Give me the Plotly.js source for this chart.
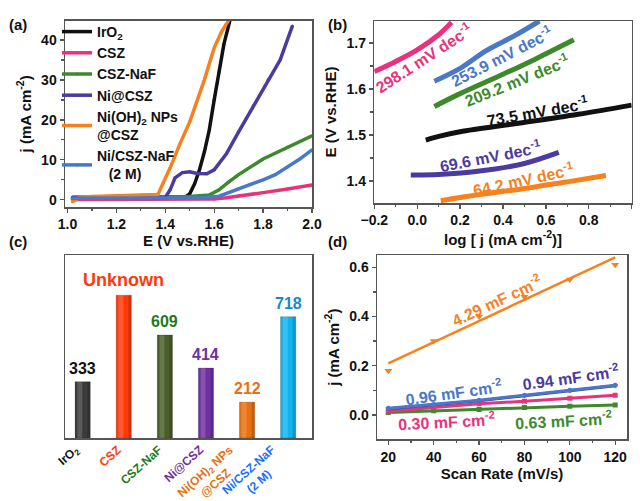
<!DOCTYPE html>
<html>
<head>
<meta charset="utf-8">
<script src="https://cdn.plot.ly/plotly-3.0.1.min.js"></script>
<style>html,body{margin:0;padding:0;background:#fff;}#chart{width:640px;height:501px;}</style>
</head>
<body>
<div id="chart"></div>
<script>
// ---------- Panel (a): LSV curves ----------
const irO2X = [1.02, 1.2, 1.4, 1.48, 1.5, 1.52, 1.54, 1.56, 1.58, 1.6, 1.62, 1.64, 1.665];
const irO2Y = [0.3, 0.3, 0.4, 0.6, 1.5, 4, 7.5, 12, 17.5, 25, 32, 39, 45];
const cszX = [1.02, 1.3, 1.6, 1.65, 1.7, 1.8, 1.9, 2.0];
const cszY = [0.1, 0.1, 0.2, 0.5, 1.0, 1.8, 2.7, 3.7];
const cszNaFX = [1.02, 1.3, 1.5, 1.58, 1.62, 1.66, 1.7, 1.8, 1.9, 2.0];
const cszNaFY = [0.7, 0.7, 0.8, 1.2, 2.5, 4.5, 6.3, 10.2, 13.2, 16];
const niCszX = [1.02, 1.2, 1.4, 1.42, 1.44, 1.47, 1.5, 1.53, 1.57, 1.6, 1.65, 1.7, 1.76, 1.82, 1.87, 1.92];
const niCszY = [0.5, 0.5, 0.6, 2.5, 5.5, 6.8, 7, 6.6, 6.5, 7.5, 11.5, 17, 23.5, 30, 35, 43.5];
const niOHX = [1.02, 1.05, 1.1, 1.2, 1.3, 1.37, 1.39, 1.42, 1.46, 1.5, 1.52, 1.56, 1.6, 1.63, 1.66];
const niOHY = [-0.5, 0.6, 0.8, 1.0, 1.1, 1.3, 4, 8, 14, 19.5, 23, 30, 38, 42, 45];
const niCszNaFX = [1.02, 1.3, 1.55, 1.62, 1.66, 1.7, 1.75, 1.8, 1.85, 1.9, 1.95, 2.0];
const niCszNaFY = [0.4, 0.4, 0.5, 0.9, 1.8, 2.8, 3.8, 5, 6.3, 8.2, 10.2, 12.5];
const legendNames = ['IrO<sub>2</sub>', 'CSZ', 'CSZ-NaF', 'Ni@CSZ', 'Ni(OH)<sub>2</sub> NPs<br>@CSZ', 'Ni/CSZ-NaF<br>   (2 M)'];

// ---------- Panel (b): Tafel ----------
const tafPinkX = [-0.2, -0.1, 0.0, 0.1, 0.16];
const tafPinkY = [1.638, 1.66, 1.685, 1.718, 1.745];
const tafBlueX = [0.08, 0.2, 0.32, 0.45, 0.57];
const tafBlueY = [1.617, 1.645, 1.683, 1.715, 1.748];
const tafGreenX = [0.08, 0.2, 0.4, 0.55, 0.73];
const tafGreenY = [1.562, 1.59, 1.632, 1.665, 1.707];
const tafBlackX = [0.04, 0.1, 0.2, 0.48, 0.75, 1.0];
const tafBlackY = [1.489, 1.497, 1.507, 1.526, 1.545, 1.565];
const tafPurpleX = [-0.03, 0.1, 0.3, 0.5, 0.66];
const tafPurpleY = [1.413, 1.414, 1.422, 1.438, 1.462];
const tafOrangeX = [0.11, 0.3, 0.48, 0.7, 0.88];
const tafOrangeY = [1.357, 1.371, 1.382, 1.398, 1.412];
const tafelLabels = ['298.1 mV dec<sup>-1</sup>', '253.9 mV dec<sup>-1</sup>', '209.2 mV dec<sup>-1</sup>', '73.5 mV dec<sup>-1</sup>', '69.6 mV dec<sup>-1</sup>', '64.2 mV dec<sup>-1</sup>'];

// ---------- Panel (c): overpotential bars ----------
const barCats = ['IrO<sub>2</sub>', 'CSZ', 'CSZ-NaF', 'Ni@CSZ', 'Ni(OH)<sub>2</sub> NPs<br>@CSZ', 'Ni/CSZ-NaF<br>(2 M)'];
const barValues = [333, 845, 609, 414, 212, 718];
const barLabels = ['333', 'Unknown', '609', '414', '212', '718'];

// ---------- Panel (d): Cdl ----------
const scanRate = [20, 40, 60, 80, 100, 120];
const cdlOrange = [0.18, 0.30, 0.40, 0.48, 0.55, 0.61];
const cdlOrangeFitX = [20, 120];
const cdlOrangeFitY = [0.21, 0.64];
const cdlBlue = [0.027, 0.042, 0.060, 0.080, 0.100, 0.121];
const cdlPurple = [0.025, 0.040, 0.058, 0.078, 0.098, 0.119];
const cdlPink = [0.015, 0.030, 0.045, 0.056, 0.068, 0.080];
const cdlGreen = [0.010, 0.017, 0.022, 0.030, 0.035, 0.040];
const cdlLabels = ['4.29 mF cm<sup>-2</sup>', '0.96 mF cm<sup>-2</sup>', '0.94 mF cm<sup>-2</sup>', '0.30 mF cm<sup>-2</sup>', '0.63 mF cm<sup>-2</sup>'];

// ---------- colours ----------
const cBlack = '#111111', cPink = '#e8337c', cGreen = '#3c8a2c', cPurple = '#4b3aa0', cOrange = '#f5821f', cBlue = '#4a78c8';
const barColors = ['#3b3b3b', '#ff3a0a', '#4a5e2a', '#7030a0', '#e8700f', '#12b2ee'];
const barTextColors = ['#111111', '#ff3a0a', '#1e7a1e', '#7030a0', '#e8700f', '#1a86d0'];
const barTickColors = ['#111111', '#ff3a0a', '#1e7a1e', '#7030a0', '#e8700f', '#1a6fff'];

const FONT = 'Liberation Sans, Arial, sans-serif';
const W = 640, H = 501;
const px = v => v / W, py = v => 1 - v / H;

const traces = [];
function lsv(x, y, color, name) {
  traces.push({x, y, type: 'scatter', mode: 'lines+markers', name, xaxis: 'x', yaxis: 'y',
    line: {color, width: 3.5}, marker: {size: 3, color}, showlegend: true});
}
lsv(irO2X, irO2Y, cBlack, legendNames[0]);
lsv(cszX, cszY, cPink, legendNames[1]);
lsv(cszNaFX, cszNaFY, cGreen, legendNames[2]);
lsv(niCszX, niCszY, cPurple, legendNames[3]);
lsv(niOHX, niOHY, cOrange, legendNames[4]);
lsv(niCszNaFX, niCszNaFY, cBlue, legendNames[5]);

function taf(x, y, color) {
  traces.push({x, y, type: 'scatter', mode: 'lines', xaxis: 'x2', yaxis: 'y2',
    line: {color, width: 5, shape: 'spline'}, showlegend: false, hoverinfo: 'skip'});
}
taf(tafPinkX, tafPinkY, cPink);
taf(tafBlueX, tafBlueY, cBlue);
taf(tafGreenX, tafGreenY, cGreen);
taf(tafBlackX, tafBlackY, cBlack);
taf(tafPurpleX, tafPurpleY, cPurple);
taf(tafOrangeX, tafOrangeY, cOrange);

const barIdx = barCats.map((_, i) => i);
traces.push({x: barIdx, y: barValues, type: 'bar', xaxis: 'x3', yaxis: 'y3', width: 0.37,
  marker: {color: barColors, line: {color: 'rgba(0,0,0,0.2)', width: 1}}, showlegend: false});
// cylinder shading: light band on the left, darker band on the right
traces.push({x: barIdx, y: barValues, type: 'bar', xaxis: 'x3', yaxis: 'y3', width: 0.12, offset: -0.13,
  marker: {color: 'rgba(255,255,255,0.16)', line: {width: 0}}, showlegend: false});
traces.push({x: barIdx, y: barValues, type: 'bar', xaxis: 'x3', yaxis: 'y3', width: 0.07, offset: 0.11,
  marker: {color: 'rgba(0,0,0,0.16)', line: {width: 0}}, showlegend: false});

traces.push({x: scanRate, y: cdlOrange, type: 'scatter', mode: 'markers', xaxis: 'x4', yaxis: 'y4',
  marker: {symbol: 'triangle-down', size: 7, color: cOrange}, showlegend: false});
traces.push({x: cdlOrangeFitX, y: cdlOrangeFitY, type: 'scatter', mode: 'lines', xaxis: 'x4', yaxis: 'y4',
  line: {color: cOrange, width: 2.5}, showlegend: false});
function cdl(y, color, sym) {
  traces.push({x: scanRate, y, type: 'scatter', mode: 'lines+markers', xaxis: 'x4', yaxis: 'y4',
    line: {color, width: 3}, marker: {symbol: sym, size: 5, color}, showlegend: false});
}
cdl(cdlGreen, cGreen, 'square');
cdl(cdlPink, cPink, 'square');
cdl(cdlPurple, cPurple, 'triangle-down');
cdl(cdlBlue, cBlue, 'circle');

const tickFont = {family: FONT, size: 14, color: '#111', weight: 'bold'};
const titleFont = {family: FONT, size: 15, color: '#111', weight: 'bold'};
function ax(extra) {
  return Object.assign({showline: true, mirror: true, linecolor: '#555', linewidth: 1.5,
    ticks: 'outside', ticklen: 4, tickwidth: 1.3, tickcolor: '#555', showgrid: false, zeroline: false,
    tickfont: tickFont}, extra);
}
const minorT = d => ({ticks: 'outside', ticklen: 2.5, tickcolor: '#555', dtick: d, showgrid: false});

const annotations = [];
function ann(text, x, y, xref, yref, color, size, angle) {
  annotations.push({text, x, y, xref, yref, showarrow: false, textangle: angle || 0,
    font: {family: FONT, size, color, weight: 'bold'}, xanchor: 'center', yanchor: 'middle'});
}
// panel labels
ann('(a)', px(18), py(24), 'paper', 'paper', '#111', 15);
ann('(b)', px(337), py(24), 'paper', 'paper', '#111', 15);
ann('(c)', px(18), py(241), 'paper', 'paper', '#111', 15);
ann('(d)', px(337), py(241), 'paper', 'paper', '#111', 15);

// tafel labels
const tafPos = [[0.028, 1.667, -33, cPink], [0.394, 1.671, -27, cBlue], [0.464, 1.620, -22, cGreen],
  [0.557, 1.553, -10, cBlack], [0.339, 1.455, -11, cPurple], [0.495, 1.404, -12, cOrange]];
tafelLabels.forEach((t, i) => ann(t, tafPos[i][0], tafPos[i][1], 'x2', 'y2', tafPos[i][3], 16, tafPos[i][2]));

// bar value labels
barLabels.forEach((t, i) => {
  annotations.push({text: t, x: i, y: barValues[i], xref: 'x3', yref: 'y3', showarrow: false,
    yanchor: 'bottom', yshift: 3, font: {family: FONT, size: i === 1 ? 18 : 16, color: barTextColors[i], weight: 'bold'}});
});
// bar category labels (rotated)
barCats.forEach((t, i) => {
  annotations.push({text: t, x: i, y: py(440), xref: 'x3', yref: 'paper', showarrow: false,
    xanchor: 'right', yanchor: 'top', textangle: -42, align: 'center', xshift: 3,
    font: {family: FONT, size: 12, color: barTickColors[i], weight: 'bold'}});
});

// cdl labels
const cdlPos = [[67.8, 0.467, -25, cOrange], [48.7, 0.095, -8, cBlue], [100.1, 0.156, -8, cPurple],
  [45.8, -0.023, -3, cPink], [97.2, -0.02, -3, cGreen]];
cdlLabels.forEach((t, i) => ann(t, cdlPos[i][0], cdlPos[i][1], 'x4', 'y4', cdlPos[i][3], 16, cdlPos[i][2]));

const layout = {
  width: W, height: H, margin: {l: 0, r: 0, t: 0, b: 0}, paper_bgcolor: '#fff', plot_bgcolor: '#fff',
  font: {family: FONT},
  showlegend: true, barmode: 'overlay',
  legend: {x: px(57), y: py(16), xanchor: 'left', yanchor: 'top', bgcolor: 'rgba(0,0,0,0)',
    font: {family: FONT, size: 14, color: '#111', weight: 'bold'}, itemwidth: 30, tracegroupgap: 0},
  xaxis: ax({domain: [px(65), px(312)], range: [0.99, 2.0], dtick: 0.2, tick0: 0, tickformat: '.1f', anchor: 'y',
    minor: minorT(0.1), title: {text: 'E (V vs.RHE)', font: titleFont, standoff: 3}}),
  yaxis: ax({domain: [py(207), py(20.7)], range: [-1.8, 44.8], dtick: 10, anchor: 'x',
    minor: minorT(5), title: {text: 'j (mA cm<sup>-2</sup>)', font: titleFont, standoff: 6}}),
  xaxis2: ax({domain: [px(374.3), px(631.7)], range: [-0.2, 1.0], dtick: 0.2, tick0: 0, tickformat: '.1f', anchor: 'y2',
    minor: minorT(0.1), title: {text: 'log [ j (mA cm<sup>-2</sup>)]', font: titleFont, standoff: 4}}),
  yaxis2: ax({domain: [py(203), py(21)], range: [1.352, 1.748], dtick: 0.1, tick0: 0, tickformat: '.1f', anchor: 'x2',
    minor: minorT(0.05), title: {text: 'E (V vs.RHE)', font: titleFont, standoff: 6}}),
  xaxis3: {domain: [px(65), px(312)], range: [-0.43, 5.58], anchor: 'y3', showline: true, mirror: true,
    linecolor: '#555', linewidth: 1.5, showgrid: false, zeroline: false, ticks: '', showticklabels: false},
  yaxis3: {domain: [py(438), py(255)], range: [0, 1083], anchor: 'x3', showline: true, mirror: true,
    linecolor: '#555', linewidth: 1.5, showgrid: false, zeroline: false, ticks: '', showticklabels: false},
  xaxis4: ax({domain: [px(377), px(627)], range: [15, 125.2], dtick: 20, anchor: 'y4',
    minor: minorT(10), title: {text: 'Scan Rate (mV/s)', font: titleFont, standoff: 4}}),
  yaxis4: ax({domain: [py(439.3), py(255)], range: [-0.099, 0.65], dtick: 0.2, tick0: 0, tickformat: '.1f', anchor: 'x4',
    minor: minorT(0.1), title: {text: 'j (mA cm<sup>-2</sup>)', font: titleFont, standoff: 6}}),
  annotations
};

Plotly.newPlot('chart', traces, layout, {displayModeBar: false, staticPlot: true});
</script>
</body>
</html>
